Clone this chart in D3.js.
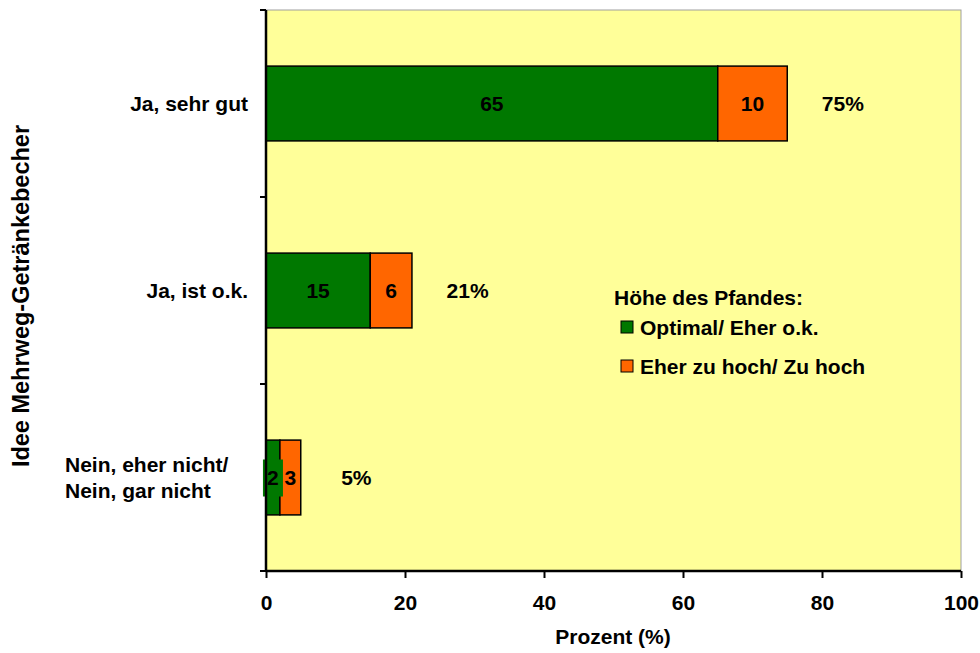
<!DOCTYPE html>
<html>
<head>
<meta charset="utf-8">
<script src="https://cdn.jsdelivr.net/npm/d3@7"></script>
<style>
  html, body { margin: 0; padding: 0; background: #fff; }
  svg text { font-family: "Liberation Sans", Arial, sans-serif; font-weight: bold; fill: #000; }
</style>
</head>
<body>
<svg id="chart" width="980" height="653"></svg>
<script>
// Survey answers on the reusable-cup idea, split by opinion on the deposit amount
const categories = ["Ja, sehr gut", "Ja, ist o.k.", "Nein, eher nicht/\nNein, gar nicht"];
const optimal = [65, 15, 2];      // Optimal/ Eher o.k.
const tooHigh = [10, 6, 3];       // Eher zu hoch/ Zu hoch
const totals = [75, 21, 5];
const xTicks = [0, 20, 40, 60, 80, 100];
const seriesNames = ["Optimal/ Eher o.k.", "Eher zu hoch/ Zu hoch"];
const seriesColors = ["#007800", "#ff6600"];

const FS = 21;
const svg = d3.select("#chart");
const plot = { left: 266, right: 961, top: 10, bottom: 571 };

const x = d3.scaleLinear().domain([0, 100]).range([plot.left, plot.right]);
const y = d3.scaleBand().domain(categories).range([plot.top, plot.bottom]).padding(0);
const barH = y.bandwidth() * 0.4;

// plot background
svg.append("rect")
  .attr("x", plot.left).attr("y", plot.top)
  .attr("width", plot.right - plot.left).attr("height", plot.bottom - plot.top)
  .attr("fill", "#ffff99")
  .attr("stroke", "#a0a0a0").attr("stroke-width", 1);

const rows = categories.map((c, i) => ({ cat: c, a: optimal[i], b: tooHigh[i], total: totals[i] }));

const g = svg.append("g");
rows.forEach(r => {
  const yc = y(r.cat) + y.bandwidth() / 2;
  const top = yc - barH / 2;
  g.append("rect")
    .attr("x", x(0)).attr("y", top)
    .attr("width", x(r.a) - x(0)).attr("height", barH)
    .attr("fill", seriesColors[0]).attr("stroke", "#000").attr("stroke-width", 1.5);
  g.append("rect")
    .attr("x", x(r.a)).attr("y", top)
    .attr("width", x(r.a + r.b) - x(r.a)).attr("height", barH)
    .attr("fill", seriesColors[1]).attr("stroke", "#000").attr("stroke-width", 1.5);

  // segment value labels
  const la = x(r.a / 2), lb = x(r.a + r.b / 2);
  if (r.a < 5) {
    // narrow segment: label sits on a small filled box
    g.append("rect")
      .attr("x", la - 10).attr("y", yc - 18)
      .attr("width", 20).attr("height", 37)
      .attr("fill", seriesColors[0]);
  }
  g.append("text").attr("x", la).attr("y", yc).attr("dy", "0.36em")
    .attr("text-anchor", "middle").attr("font-size", FS).text(r.a);
  g.append("text").attr("x", lb).attr("y", yc).attr("dy", "0.36em")
    .attr("text-anchor", "middle").attr("font-size", FS).text(r.b);

  // total label
  g.append("text").attr("x", x(r.total + 8)).attr("y", yc).attr("dy", "0.36em")
    .attr("text-anchor", "middle").attr("font-size", FS).text(r.total + "%");
});

// x axis
const xAxis = d3.axisBottom(x).tickValues(xTicks).tickSize(7).tickPadding(17);
const xg = svg.append("g").attr("transform", `translate(0,${plot.bottom})`).call(xAxis);
xg.select(".domain").attr("stroke", "#000").attr("stroke-width", 2.5)
  .attr("d", `M${plot.left},0H${plot.right}`);
xg.selectAll(".tick line").attr("stroke", "#000").attr("stroke-width", 2);
xg.selectAll(".tick text").attr("font-size", FS).attr("font-family", "Liberation Sans, Arial, sans-serif").attr("font-weight", "bold");

// y axis line and ticks at band boundaries
const yEdges = [plot.top].concat(categories.map(c => y(c) + y.bandwidth()));
svg.append("line").attr("x1", plot.left).attr("x2", plot.left)
  .attr("y1", plot.top).attr("y2", plot.bottom)
  .attr("stroke", "#000").attr("stroke-width", 2.5);
svg.selectAll(".ytick").data(yEdges).enter().append("line")
  .attr("x1", plot.left - 6).attr("x2", plot.left)
  .attr("y1", d => d).attr("y2", d => d)
  .attr("stroke", "#000").attr("stroke-width", 2);

// category labels: single lines right-aligned, wrapped labels as a left-aligned block
categories.forEach(c => {
  const lines = c.split("\n");
  const yc = y(c) + y.bandwidth() / 2;
  const multi = lines.length > 1;
  const t = svg.append("text").attr("text-anchor", multi ? "start" : "end").attr("font-size", FS);
  lines.forEach((ln, k) => {
    t.append("tspan").attr("x", multi ? 65 : 248)
      .attr("y", yc + (k - (lines.length - 1) / 2) * 26)
      .attr("dy", "0.36em").text(ln);
  });
});

// axis titles
svg.append("text").attr("x", 613).attr("y", 644)
  .attr("text-anchor", "middle").attr("font-size", FS).text("Prozent (%)");
svg.append("text")
  .attr("transform", `translate(29,296) rotate(-90)`)
  .attr("text-anchor", "middle").attr("font-size", 23.5).text("Idee Mehrweg-Getränkebecher");

// legend
const lg = svg.append("g");
lg.append("text").attr("x", 614).attr("y", 297).attr("dy", "0.36em")
  .attr("font-size", FS).text("Höhe des Pfandes:");
seriesNames.forEach((n, i) => {
  const yy = 327 + i * 39;
  lg.append("rect").attr("x", 621).attr("y", yy - 6).attr("width", 12).attr("height", 12)
    .attr("fill", seriesColors[i]).attr("stroke", "#000").attr("stroke-width", 1);
  lg.append("text").attr("x", 640).attr("y", yy).attr("dy", "0.36em")
    .attr("font-size", FS).text(n);
});
</script>
</body>
</html>
